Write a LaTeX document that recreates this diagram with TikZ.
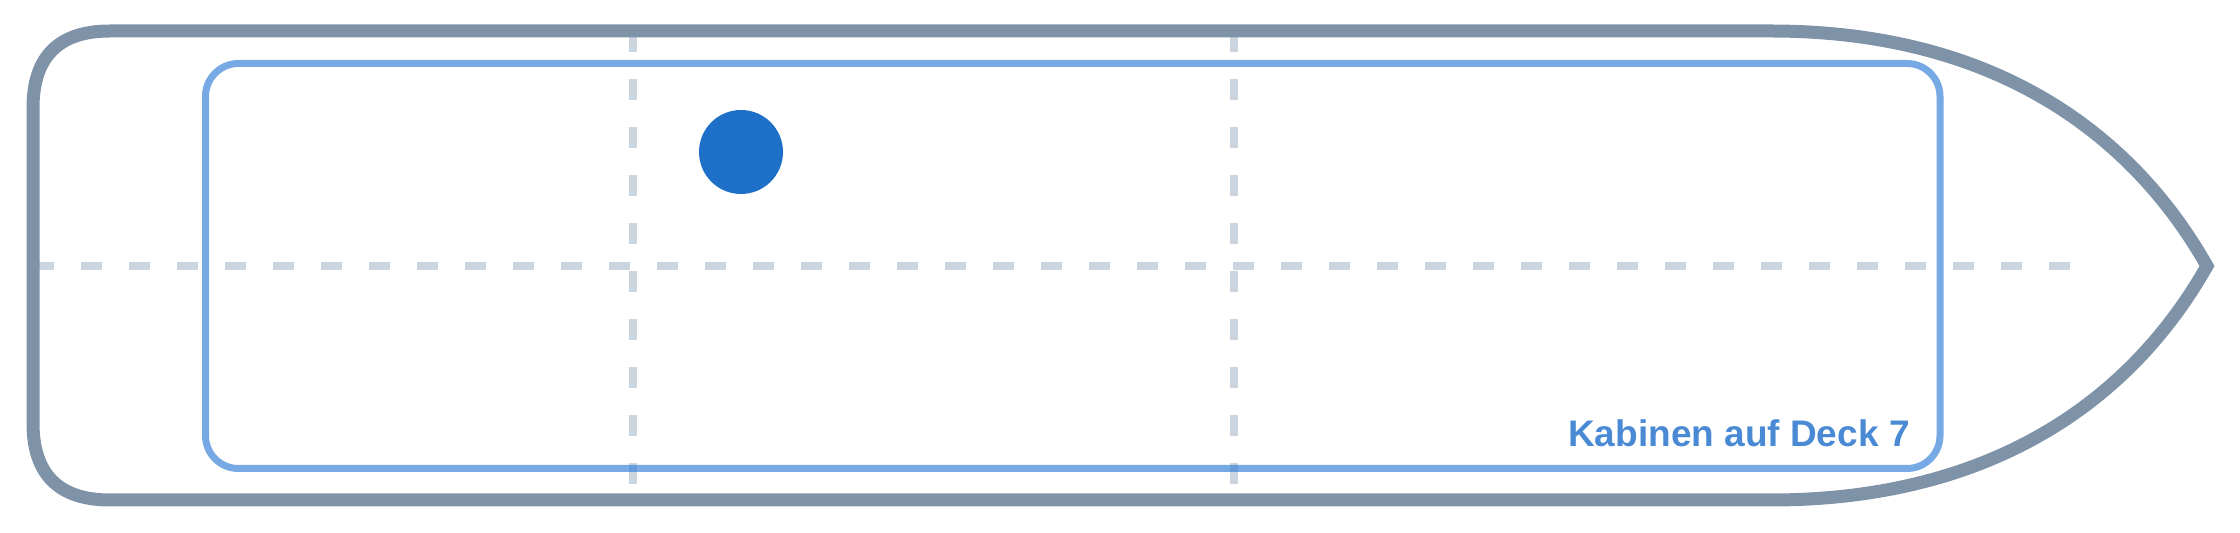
\documentclass[tikz,border=0pt]{standalone}
\usepackage{fontspec}
\setmainfont{Liberation Sans}
\definecolor{hullgray}{HTML}{7F93A8}
\definecolor{deckblue}{HTML}{3D85D8}
\definecolor{gridgray}{HTML}{CAD5E0}
\definecolor{cabinblue}{HTML}{1E6FC8}
\definecolor{labelblue}{HTML}{4A8AD4}
\begin{document}
\begin{tikzpicture}[x=0.5pt,y=-0.5pt,
    hull/.style={draw=hullgray,line width=6.5pt,line join=miter},
    deck/.style={draw=deckblue,draw opacity=0.7,line width=3.5pt,rounded corners=16.5pt},
    grid/.style={draw=gridgray,line width=4pt,dash pattern=on 10.5pt off 13.5pt}]
\useasboundingbox (0,0) rectangle (2240,533);
% midship lines
\draw[grid](33,266)--(2070,266);
\foreach \x in {633,1234}
{
    \draw[grid](\x,31)--(\x,500);
}
\draw[deck](205.5,63.5) rectangle (1940,468.5);
\draw[hull](1771,31)--(110,31) .. controls (58.7,31) and (33,56.7) .. (33,108)--(33,423) .. controls (33,474.3) and (58.7,500) .. (110,500)--(1771,500) .. controls (1990,500) and (2130,402) .. (2207,266) .. controls (2130,130) and (1990,31) .. (1771,31)--cycle;
\node[circle,fill=cabinblue,inner sep=0pt,minimum size=42pt](cabin) at (741,152){};
\node[anchor=base east,text=labelblue,font=\bfseries\fontsize{18.5pt}{22pt}\selectfont,inner sep=0pt](decklabel) at (1910,447){Kabinen auf Deck 7};
\end{tikzpicture}
\end{document}
